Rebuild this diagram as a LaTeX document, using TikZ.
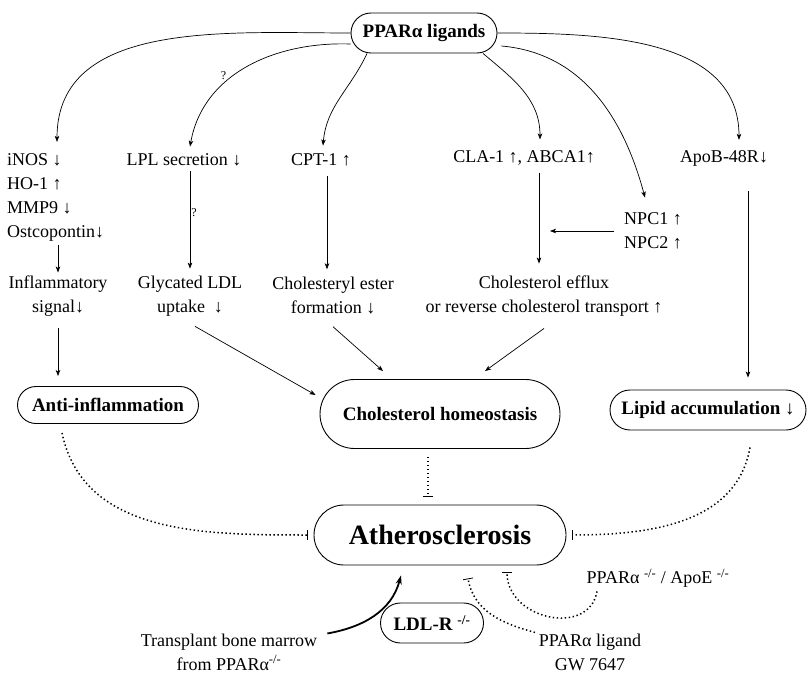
\documentclass[tikz,border=0pt]{standalone}
\usepackage{fontspec}
\setmainfont{Liberation Serif}
\usetikzlibrary{arrows.meta,shapes.misc,calc}

\tikzset{
  txt/.style={font=\fontsize{18}{24}\selectfont, align=center, inner sep=2pt},
  pill/.style={rounded rectangle, draw, line width=0.9pt, inner sep=2pt,
    font=\bfseries\fontsize{19}{23}\selectfont},
  act/.style={-{Stealth[length=6pt,width=4.5pt,inset=1.5pt]}, line width=0.7pt},
  inh/.style={line width=1.5pt, dash pattern=on 1.4pt off 2.6pt,
    -{Bar[width=10pt,line width=0.8pt]}},
  qmark/.style={font=\fontsize{12}{12}\selectfont, inner sep=1pt},
}

\begin{document}
\begin{tikzpicture}[x=1pt,y=-1pt]
  \useasboundingbox (0,0) rectangle (812,677);

  % ligand
  \node[pill, minimum width=150pt, minimum height=40pt] (lig) at (424,33) {PPARα ligands};

  % targets
  \node[txt, align=left, anchor=west] (inos) at (5,197) {iNOS ↓\\HO-1 ↑\\MMP9 ↓\\Ostcopontin↓};
  \node[txt] (lpl) at (184,160) {LPL secretion ↓};
  \node[txt] (cpt) at (321,160) {CPT-1 ↑};
  \node[txt] (cla) at (524,158) {CLA-1 ↑, ABCA1↑};
  \node[txt] (apob) at (724,158) {ApoB-48R↓};
  \node[txt] (npc) at (653,231) {NPC1 ↑\\NPC2 ↑};

  % effects
  \node[txt] (infl) at (58,296) {Inflammatory\\signal↓};
  \node[txt] (glyc) at (190,296) {Glycated LDL\\uptake ~↓};
  \node[txt] (chest) at (333,296) {Cholesteryl ester\\formation ↓};
  \node[txt] (efflux) at (544,296) {Cholesterol efflux\\or reverse cholesterol transport ↑};

  % outcomes
  \node[pill, minimum width=185pt, minimum height=37pt] (anti) at (108,405) {Anti-inflammation};
  \node[pill, minimum width=244pt, minimum height=69pt] (homeo) at (440,414) {Cholesterol homeostasis};
  \node[pill, minimum width=200pt, minimum height=40pt] (lipid) at (708,410) {Lipid accumulation ↓};
  \node[pill, minimum width=256pt, minimum height=60pt,
    font=\bfseries\fontsize{28}{32}\selectfont] (ath) at (440,535) {Atherosclerosis};
  \node[pill, minimum width=107pt, minimum height=40pt] (ldl) at (432,623) {LDL-R \textsuperscript{-/-}};

  % models
  \node[txt] (ko) at (658,578) {PPARα \textsuperscript{-/-} / ApoE \textsuperscript{-/-}};
  \node[txt, inner sep=1pt] (gw) at (590,652) {PPARα ligand\\GW 7647};
  \node[txt] (tx) at (229,652) {Transplant bone marrow\\from PPARα\textsuperscript{-/-}};

  % from the ligand
  \draw[act] (lig.west) to[out=180,in=90] ([xshift=52pt,yshift=9pt]inos.north west);
  \draw[act] ([yshift=-11pt]lig.west) to[out=178,in=80]
    node[qmark, pos=0.62, above left] {?} ([xshift=6pt,yshift=5pt]lpl.north);
  \draw[act] ([xshift=-57pt]lig.south) to[out=-115,in=85] ([xshift=2pt,yshift=6pt]cpt.north);
  \draw[act] ([xshift=59pt]lig.south) to[out=-40,in=90] ([xshift=16pt,yshift=9pt]cla.north);
  \draw[act] ([xshift=4pt,yshift=-13pt]lig.east) to[out=-5,in=105] ([xshift=-8pt,yshift=13pt]npc.north);
  \draw[act] (lig.east) to[out=0,in=90] ([xshift=15pt,yshift=8pt]apob.north);

  % vertical steps
  \draw[act, shorten <=2pt, shorten >=1pt] (infl.north |- inos.south) -- (infl.north);
  \draw[act, shorten <=10pt, shorten >=10pt] (infl.south) -- (infl.south |- anti.north);
  \draw[act, shorten <=3pt, shorten >=5pt] (glyc.north |- lpl.south)
    -- node[qmark, right, pos=0.42] {?} (glyc.north);
  \draw[act, shorten <=8pt, shorten >=6pt] ([xshift=6pt]cpt.south) -- ([xshift=-6pt]chest.north);
  \draw[act, shorten <=5pt, shorten >=10pt] ([xshift=15pt]cla.south) -- ([xshift=-5pt]efflux.north);
  \draw[act] ([xshift=-8pt]npc.west) -- ($(npc.west -| efflux.north)+(6,0)$);
  \draw[act, shorten <=23pt, shorten >=12pt] ([xshift=24pt]apob.south) -- ([xshift=40pt]lipid.north);

  % into homeostasis
  \draw[act] ([xshift=5pt,yshift=-8pt]glyc.south) -- ([xshift=-4pt,yshift=19pt]homeo.west);
  \draw[act] ([yshift=-10pt]chest.south) -- ([xshift=-57pt,yshift=8pt]homeo.north);
  \draw[act] ([yshift=-10pt]efflux.south) -- ([xshift=45pt,yshift=8pt]homeo.north);

  % inhibition of atherosclerosis
  \draw[inh] ([xshift=-46pt,yshift=-9pt]anti.south) to[out=-78,in=180] ([xshift=-6pt]ath.west);
  \draw[inh] ([xshift=-12pt,yshift=-8pt]homeo.south) -- ([xshift=-12pt,yshift=8pt]ath.north);
  \draw[inh] ([xshift=42pt,yshift=-17pt]lipid.south) to[out=-100,in=0] ([xshift=6pt]ath.east);
  \draw[inh] ([xshift=-61pt,yshift=-2pt]ko.south) to[out=-100,in=-90,looseness=1.3]
    ([xshift=67pt,yshift=-7pt]ath.south);
  \draw[inh] ([xshift=-55pt]gw.north) to[out=165,in=-80] ([xshift=28pt,yshift=-13pt]ath.south);

  % bone marrow transplant
  \draw[-{Stealth[length=9pt,width=6pt]}, line width=1.8pt]
    ([xshift=8pt,yshift=-2pt]tx.north east) to[out=10,in=-105] ([xshift=-39pt,yshift=-10pt]ath.south);
\end{tikzpicture}
\end{document}
